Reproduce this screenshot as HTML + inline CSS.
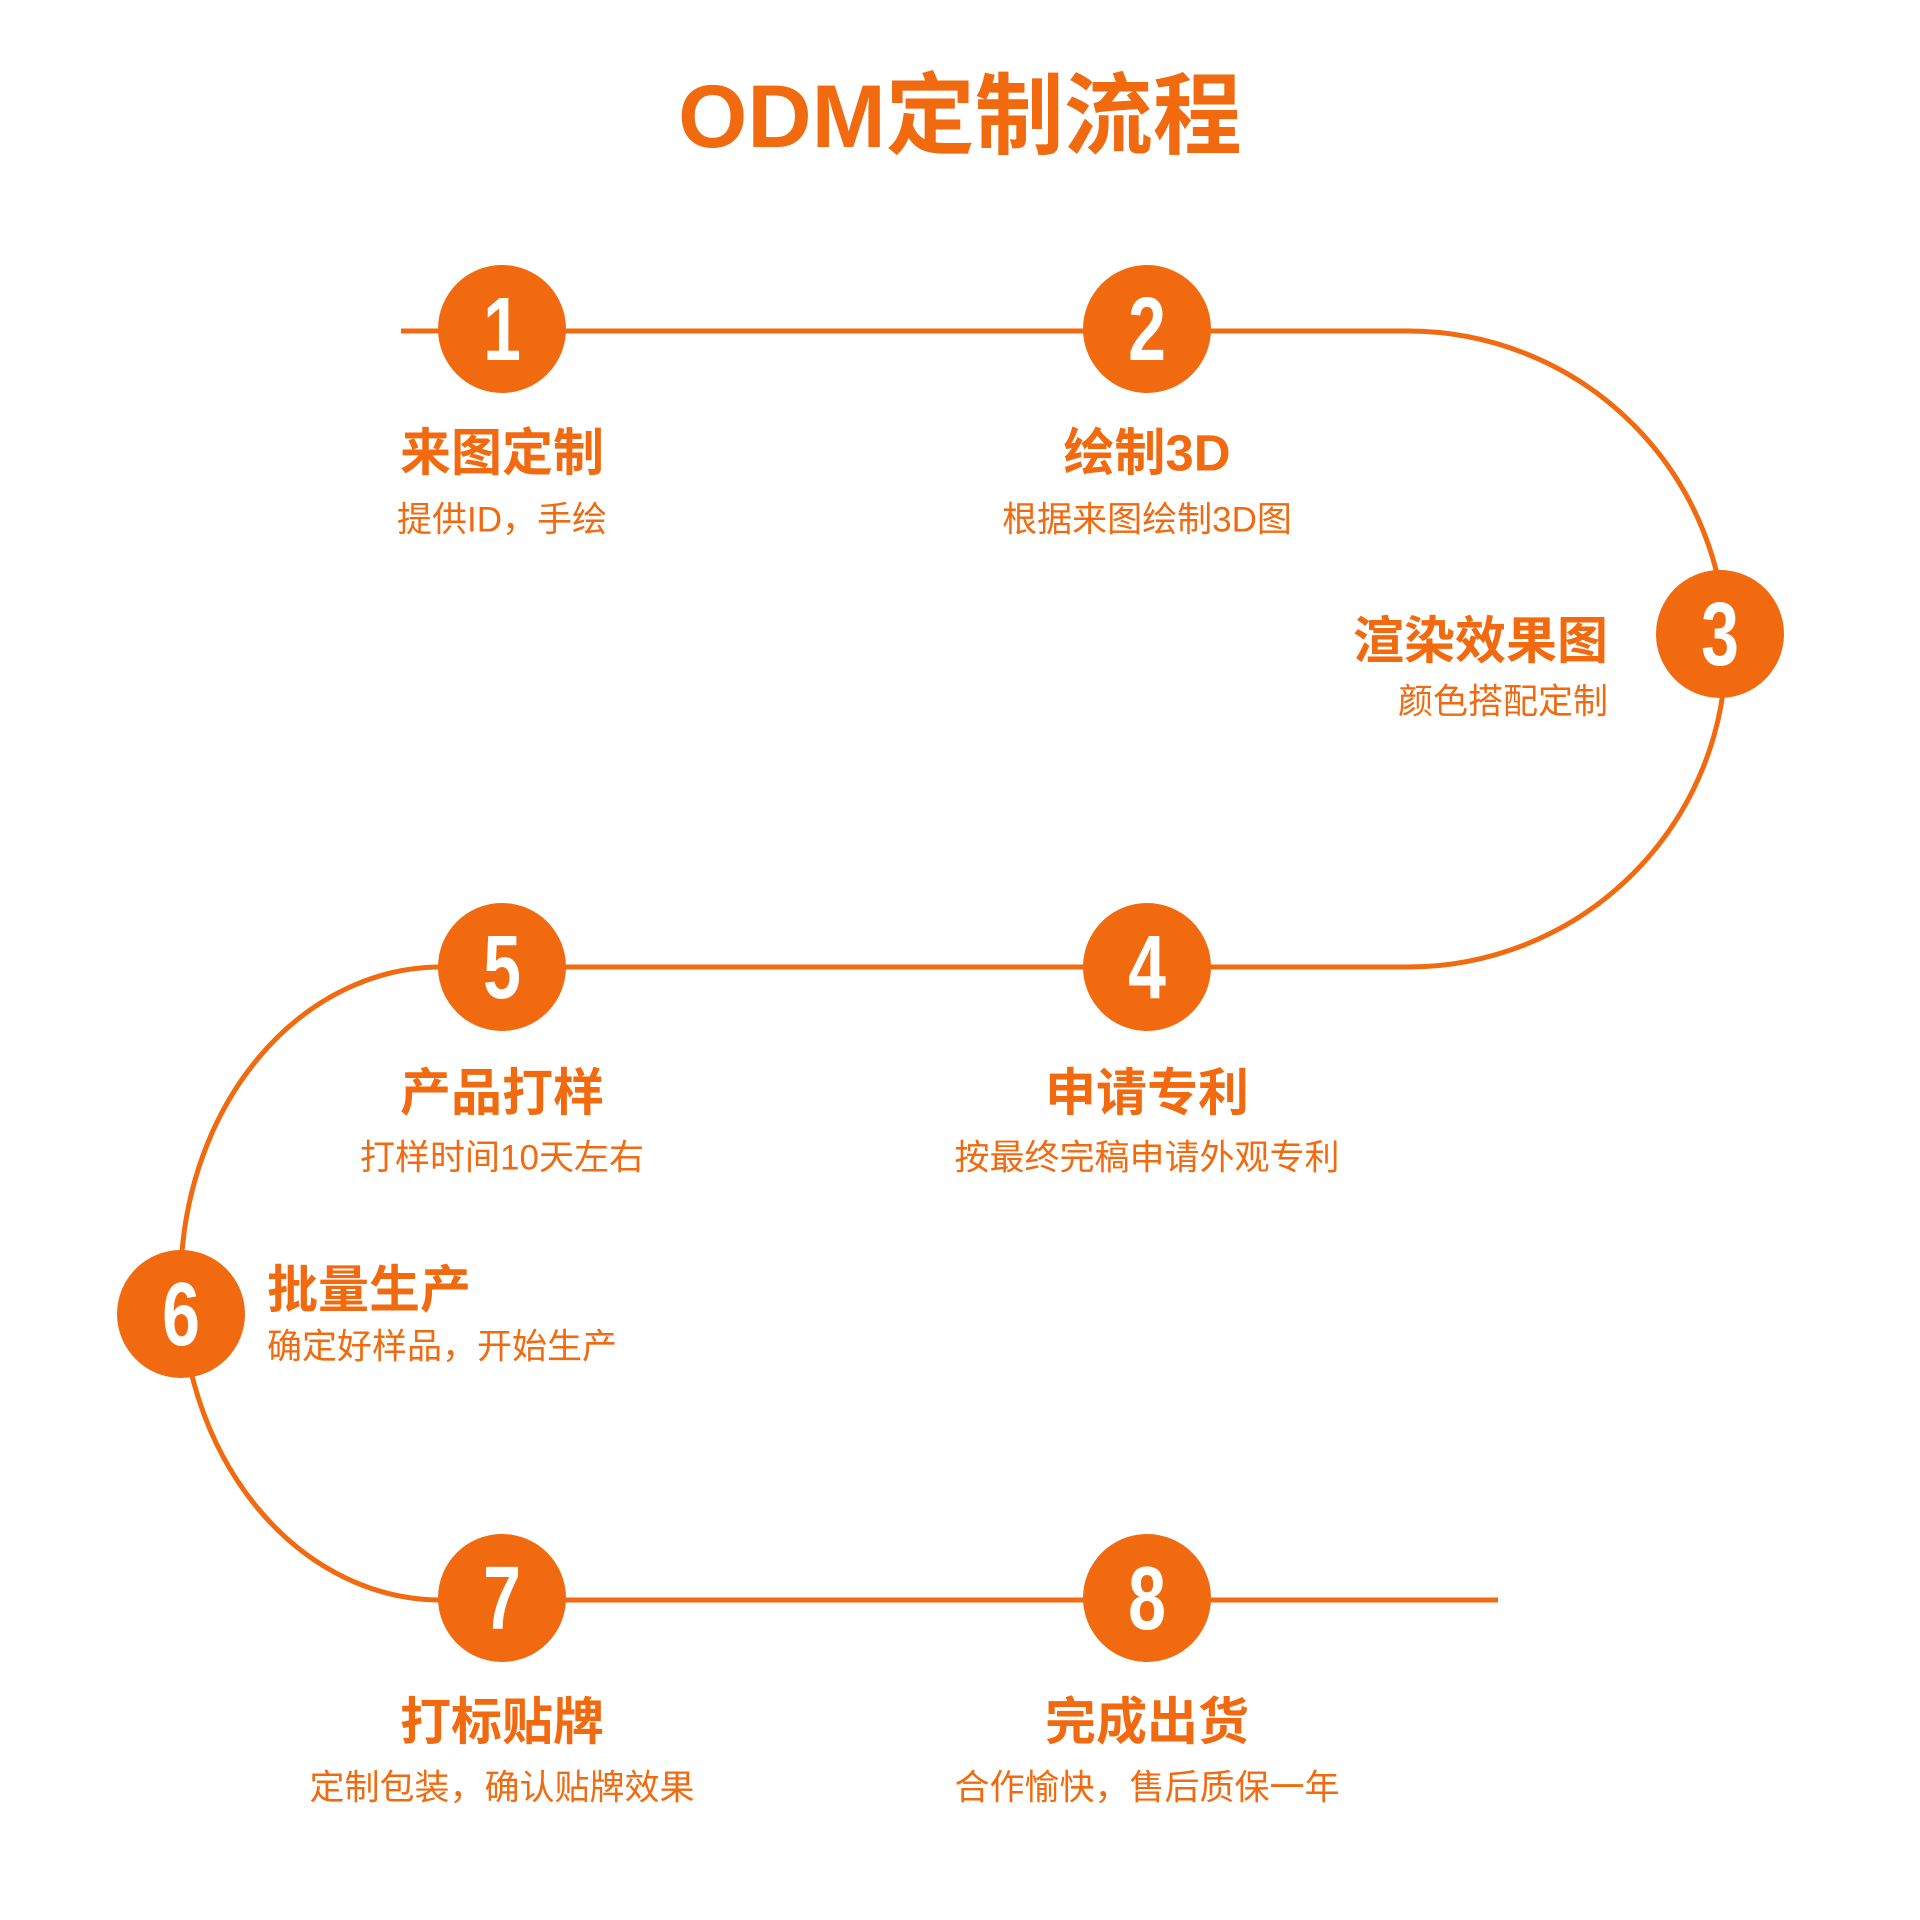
<!DOCTYPE html>
<html><head><meta charset="utf-8"><style>html,body{margin:0;padding:0;background:#fff}svg{display:block}</style></head>
<body>
<svg width="1920" height="1920" viewBox="0 0 1920 1920" xmlns="http://www.w3.org/2000/svg" font-family="'Liberation Sans','Noto Sans CJK SC',sans-serif">
<g fill="none" stroke="#f26a0f" stroke-width="5">
<path d="M401 331 H1408 A318 318 0 0 1 1408 967 H441 A260 316 0 0 0 441 1600 H1498"/>
</g>
<text x="960" y="116" text-anchor="middle" dominant-baseline="central" font-size="89" font-weight="bold" fill="#f26a0f">ODM定制流程</text>
<g fill="#f26a0f">
<circle cx="502" cy="329" r="64"/><circle cx="1147" cy="329" r="64"/><circle cx="1720" cy="634" r="64"/>
<circle cx="1147" cy="967" r="64"/><circle cx="502" cy="967" r="64"/><circle cx="181" cy="1314" r="64"/>
<circle cx="502" cy="1598" r="64"/><circle cx="1147" cy="1598" r="64"/>
</g>
<g fill="#fff" font-size="80" font-weight="bold" text-anchor="middle" font-family="'Liberation Sans Narrow','Liberation Sans',sans-serif">
<text transform="translate(502,360) scale(0.85,1.12)">1</text>
<text transform="translate(1147,360) scale(0.85,1.12)">2</text>
<text transform="translate(1720,665) scale(0.85,1.12)">3</text>
<text transform="translate(1147,998) scale(0.85,1.12)">4</text>
<text transform="translate(502,998) scale(0.85,1.12)">5</text>
<text transform="translate(181,1345) scale(0.85,1.12)">6</text>
<text transform="translate(502,1629) scale(0.85,1.12)">7</text>
<text transform="translate(1147,1629) scale(0.85,1.12)">8</text>
</g>
<g fill="#f26a0f" dominant-baseline="central">
<g font-size="51" font-weight="bold" text-anchor="middle">
<text x="502" y="453">来图定制</text><text x="1147" y="453">绘制3D</text>
<text x="1147" y="1093">申请专利</text><text x="502" y="1093">产品打样</text>
<text x="502" y="1722">打标贴牌</text><text x="1147" y="1722">完成出货</text>
</g>
<g font-size="35" text-anchor="middle">
<text x="502" y="520">提供ID，手绘</text><text x="1147" y="520">根据来图绘制3D图</text>
<text x="1147" y="1158">按最终完稿申请外观专利</text><text x="502" y="1158">打样时间10天左右</text>
<text x="502" y="1788">定制包装，确认贴牌效果</text><text x="1147" y="1788">合作愉快，售后质保一年</text>
</g>
<text x="1608" y="641" font-size="51" font-weight="bold" text-anchor="end">渲染效果图</text>
<text x="1608" y="702" font-size="35" text-anchor="end">颜色搭配定制</text>
<text x="267" y="1290" font-size="51" font-weight="bold">批量生产</text>
<text x="267" y="1347" font-size="35">确定好样品，开始生产</text>
</g>
</svg>
</body></html>
